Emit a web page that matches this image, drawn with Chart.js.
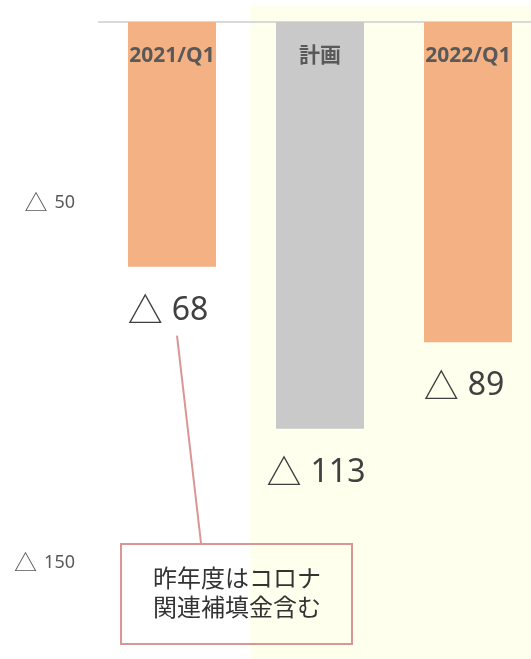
<!DOCTYPE html>
<html>
<head>
<meta charset="utf-8">
<script src="https://cdn.jsdelivr.net/npm/chart.js@4/dist/chart.umd.min.js"></script>
<style>
  html, body { margin: 0; padding: 0; background: #fff; overflow: hidden; }
  #wrap { width: 545px; height: 659px; }
</style>
</head>
<body>
<div id="wrap"><canvas id="cv" width="545" height="659"></canvas></div>
<script>
// 営業利益（△は損失）
var labels = ["2021/Q1", "計画", "2022/Q1"];
var values = [-68, -113, -89];
var barColors = ["#f4b183", "#c9c9c9", "#f4b183"];
var tickValues = [-50, -150];
var noteLines = ["昨年度はコロナ", "関連補填金含む"];

var jpFont = "'Noto Sans CJK JP', sans-serif";
var latinFont = "'Noto Sans', 'Noto Sans CJK JP', sans-serif";

// △ と数字を別々のサイズで描く（align: "right" か "center"）
function drawNeg(ctx, v, x, y, triSize, numSize, gap, align) {
  var tri = "△";
  var num = String(Math.abs(v));
  ctx.font = triSize + "px " + jpFont;
  var tw = ctx.measureText(tri).width;
  ctx.font = numSize + "px " + latinFont;
  var nw = ctx.measureText(num).width;
  var total = tw + gap + nw;
  var left = align === "right" ? x - total : x - total / 2;
  ctx.textAlign = "left";
  ctx.textBaseline = "middle";
  ctx.font = triSize + "px " + jpFont;
  ctx.fillText(tri, left, y);
  ctx.font = numSize + "px " + latinFont;
  ctx.fillText(num, left + tw + gap, y + 1);
}

// 計画〜2022/Q1 の背景（薄い黄色）とゼロ線、目盛りラベル
var bgPlugin = {
  id: "bgPlugin",
  beforeDraw: function (c) {
    var x = c.scales.x;
    var y = c.scales.y;
    var left = (x.getPixelForValue(0) + x.getPixelForValue(1)) / 2 + 4;
    var ctx = c.ctx;
    ctx.save();
    ctx.fillStyle = "#ffffee";
    ctx.fillRect(left, 5, c.width - left, c.height - 5);
    ctx.strokeStyle = "#d9d9d9";
    ctx.lineWidth = 2;
    ctx.beginPath();
    ctx.moveTo(c.chartArea.left, y.getPixelForValue(0));
    ctx.lineTo(c.chartArea.right, y.getPixelForValue(0));
    ctx.stroke();
    ctx.fillStyle = "#595959";
    tickValues.forEach(function (v) {
      drawNeg(ctx, v, c.chartArea.left - 23, y.getPixelForValue(v), 23, 18, 7, "right");
    });
    ctx.restore();
  }
};

// 棒の中のラベルと下の数値
var labelPlugin = {
  id: "labelPlugin",
  afterDatasetsDraw: function (c) {
    var ctx = c.ctx;
    var meta = c.getDatasetMeta(0);
    var top = c.chartArea.top;
    ctx.save();
    meta.data.forEach(function (bar, i) {
      ctx.textAlign = "center";
      ctx.textBaseline = "middle";
      ctx.fillStyle = "#595959";
      ctx.font = "bold 21px " + latinFont;
      ctx.fillText(labels[i], bar.x, top + 34);
      ctx.fillStyle = "#404040";
      drawNeg(ctx, values[i], bar.x - 4, bar.y + 43, 35, 32, 9, "center");
    });
    ctx.restore();
  }
};

// 吹き出し
var notePlugin = {
  id: "notePlugin",
  afterDraw: function (c) {
    var ctx = c.ctx;
    var bar = c.getDatasetMeta(0).data[0];
    ctx.save();
    ctx.strokeStyle = "#d99694";
    ctx.lineWidth = 2;
    ctx.beginPath();
    ctx.moveTo(bar.x + 5, bar.y + 69);
    ctx.lineTo(201, 543);
    ctx.stroke();
    ctx.strokeRect(121, 544, 231, 100);
    ctx.fillStyle = "#333333";
    ctx.font = "24px " + jpFont;
    ctx.textAlign = "center";
    ctx.textBaseline = "middle";
    ctx.fillText(noteLines[0], 237, 578);
    ctx.fillText(noteLines[1], 237, 607);
    ctx.restore();
  }
};

new Chart(document.getElementById("cv"), {
  type: "bar",
  data: {
    labels: labels,
    datasets: [{
      data: values,
      backgroundColor: barColors,
      borderWidth: 0,
      categoryPercentage: 1,
      barPercentage: 0.595
    }]
  },
  options: {
    responsive: false,
    animation: false,
    layout: { padding: { top: 22, right: 3, left: 98, bottom: 0 } },
    plugins: { legend: { display: false }, tooltip: { enabled: false } },
    scales: {
      x: { display: false },
      y: { display: false, min: -177, max: 0 }
    }
  },
  plugins: [bgPlugin, labelPlugin, notePlugin]
});
</script>
</body>
</html>
